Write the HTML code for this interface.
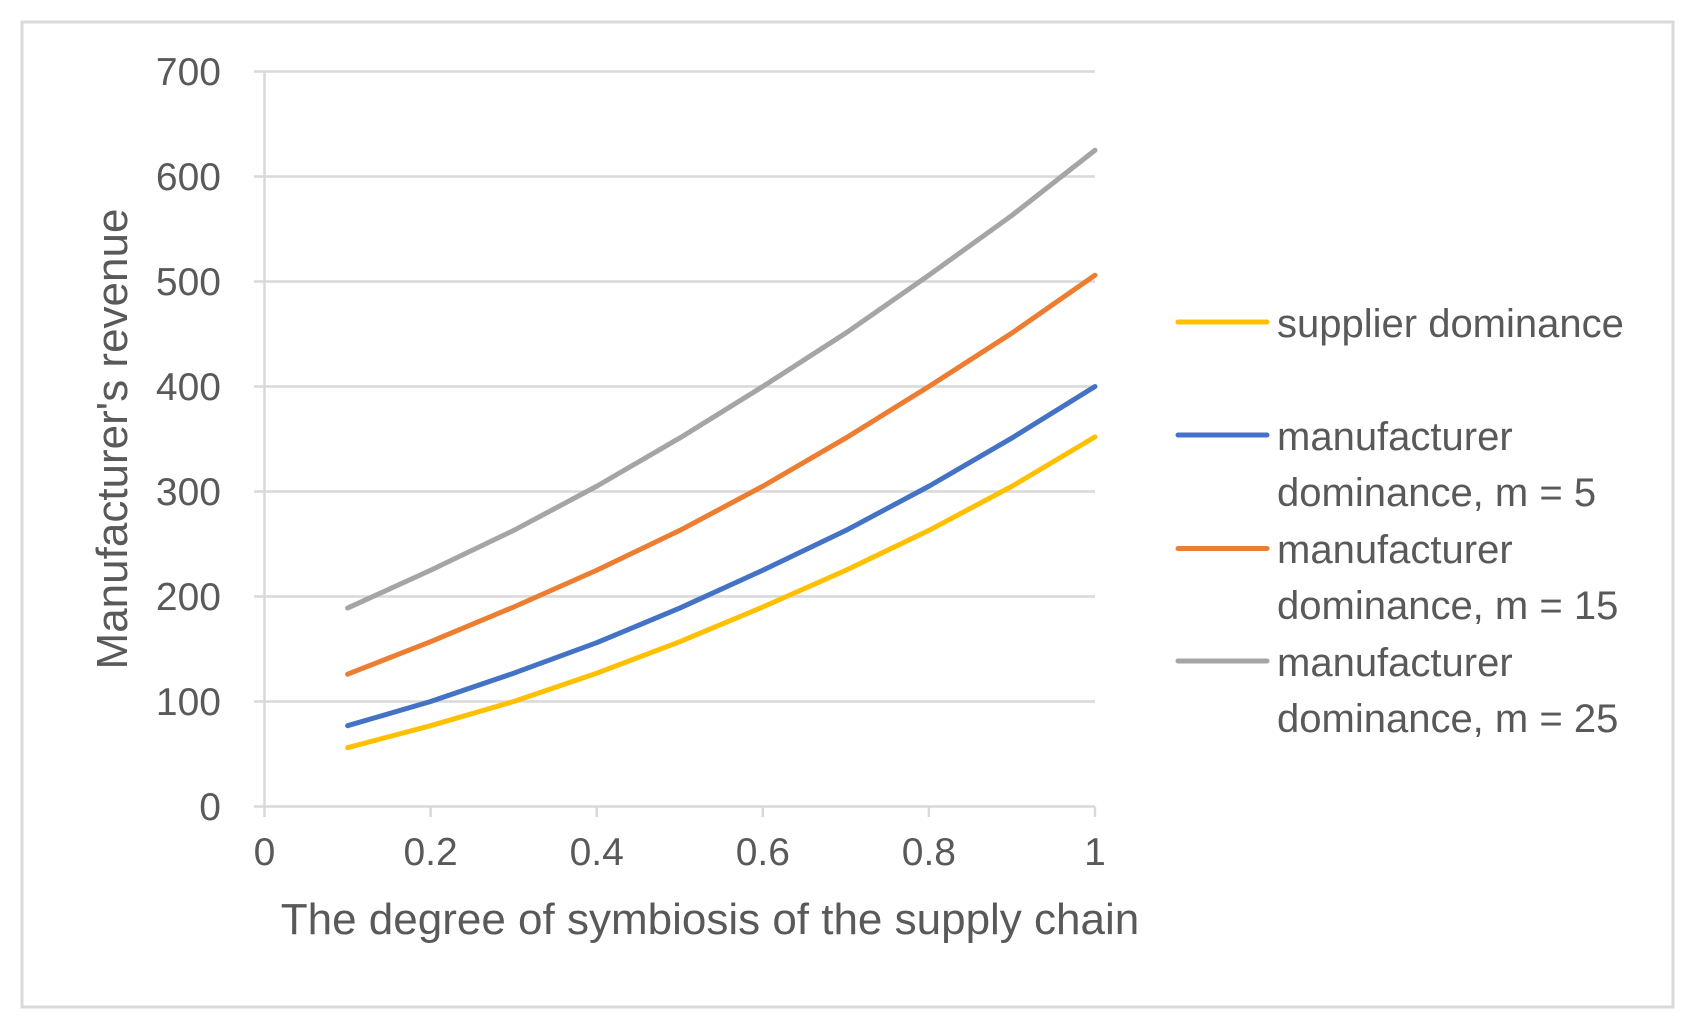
<!DOCTYPE html>
<html><head><meta charset="utf-8"><style>
html,body{margin:0;padding:0;background:#fff;}
svg{display:block;}
text{font-family:"Liberation Sans","Noto Sans CJK SC",sans-serif;fill:#595959;}
</style></head><body>
<svg width="1700" height="1030" viewBox="0 0 1700 1030" xmlns="http://www.w3.org/2000/svg">
<rect x="22" y="22" width="1651" height="985" fill="#fff" stroke="#d9d9d9" stroke-width="3"/>
<g stroke="#d9d9d9" stroke-width="2.5">
<line x1="264.5" y1="71.5" x2="1095" y2="71.5"/>
<line x1="264.5" y1="176.5" x2="1095" y2="176.5"/>
<line x1="264.5" y1="281.5" x2="1095" y2="281.5"/>
<line x1="264.5" y1="386.5" x2="1095" y2="386.5"/>
<line x1="264.5" y1="491.5" x2="1095" y2="491.5"/>
<line x1="264.5" y1="596.5" x2="1095" y2="596.5"/>
<line x1="264.5" y1="701.5" x2="1095" y2="701.5"/>
<line x1="264.5" y1="806.5" x2="1095" y2="806.5"/>
<line x1="264.5" y1="71.5" x2="264.5" y2="806.5"/>
<line x1="254" y1="71.5" x2="264.5" y2="71.5"/>
<line x1="254" y1="176.5" x2="264.5" y2="176.5"/>
<line x1="254" y1="281.5" x2="264.5" y2="281.5"/>
<line x1="254" y1="386.5" x2="264.5" y2="386.5"/>
<line x1="254" y1="491.5" x2="264.5" y2="491.5"/>
<line x1="254" y1="596.5" x2="264.5" y2="596.5"/>
<line x1="254" y1="701.5" x2="264.5" y2="701.5"/>
<line x1="254" y1="806.5" x2="264.5" y2="806.5"/>
<line x1="264.5" y1="806.5" x2="264.5" y2="817"/>
<line x1="430.6" y1="806.5" x2="430.6" y2="817"/>
<line x1="596.7" y1="806.5" x2="596.7" y2="817"/>
<line x1="762.8" y1="806.5" x2="762.8" y2="817"/>
<line x1="928.9" y1="806.5" x2="928.9" y2="817"/>
<line x1="1095" y1="806.5" x2="1095" y2="817"/>
</g>
<g font-size="39" text-anchor="end">
<text x="221" y="85">700</text>
<text x="221" y="190">600</text>
<text x="221" y="295">500</text>
<text x="221" y="400">400</text>
<text x="221" y="505">300</text>
<text x="221" y="610">200</text>
<text x="221" y="715">100</text>
<text x="221" y="820">0</text>
</g>
<g font-size="39" text-anchor="middle">
<text x="264.5" y="865">0</text>
<text x="430.6" y="865">0.2</text>
<text x="596.7" y="865">0.4</text>
<text x="762.8" y="865">0.6</text>
<text x="928.9" y="865">0.8</text>
<text x="1095" y="865">1</text>
</g>
<text x="710" y="934" font-size="44" text-anchor="middle">The degree of symbiosis of the supply chain</text>
<text transform="translate(127,439) rotate(-90)" font-size="44" text-anchor="middle">Manufacturer's revenue</text>
<g fill="none" stroke-width="5" stroke-linecap="round" stroke-linejoin="round">
<polyline stroke="#ffc000" points="347.6,747.7 430.6,725.7 513.7,701.5 596.7,673.2 679.8,641.65 762.8,607 845.9,570.25 928.9,530.4 1012,486.25 1095,436.9"/>
<polyline stroke="#4472c4" points="347.6,725.7 430.6,701.5 513.7,673.2 596.7,642.7 679.8,608.05 762.8,570.25 845.9,530.4 928.9,486.25 1012,437.95 1095,386.5"/>
<polyline stroke="#ed7d31" points="347.6,674.2 430.6,641.65 513.7,607 596.7,570.25 679.8,530.4 762.8,486.25 845.9,437.95 928.9,386.5 1012,333 1095,275.2"/>
<polyline stroke="#a5a5a5" points="347.6,608.05 430.6,570.25 513.7,530.4 596.7,486.25 679.8,437.95 762.8,386.5 845.9,333 928.9,275.2 1012,215.35 1095,150.25"/>
<line x1="1178" y1="322" x2="1267" y2="322" stroke="#ffc000"/>
<line x1="1178" y1="435" x2="1267" y2="435" stroke="#4472c4"/>
<line x1="1178" y1="548.5" x2="1267" y2="548.5" stroke="#ed7d31"/>
<line x1="1178" y1="661" x2="1267" y2="661" stroke="#a5a5a5"/>
</g>
<g font-size="40">
<text x="1277" y="337">supplier dominance</text>
<text x="1277" y="450">manufacturer</text>
<text x="1277" y="506">dominance, m = 5</text>
<text x="1277" y="563">manufacturer</text>
<text x="1277" y="619">dominance, m = 15</text>
<text x="1277" y="676">manufacturer</text>
<text x="1277" y="732">dominance, m = 25</text>
</g>
</svg>
</body></html>
